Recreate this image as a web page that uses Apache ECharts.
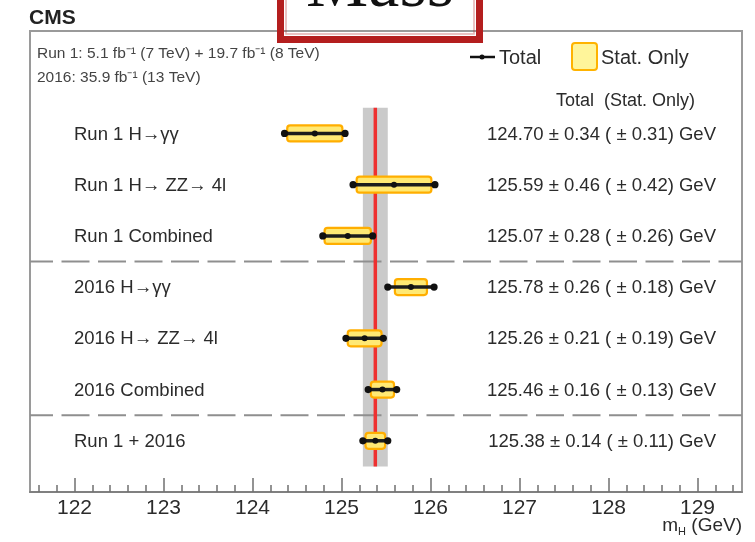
<!DOCTYPE html>
<html><head><meta charset="utf-8">
<script src="https://cdn.jsdelivr.net/npm/echarts@6/dist/echarts.min.js"></script>
<style>html,body{margin:0;padding:0;background:#fff}#c{width:755px;height:542px}</style>
</head><body><div id="c"></div>
<script>
const rowLabels = ['Run 1 H\u2192\u03b3\u03b3','Run 1 H\u2192 ZZ\u2192 4l','Run 1 Combined','2016 H\u2192\u03b3\u03b3','2016 H\u2192 ZZ\u2192 4l','2016 Combined','Run 1 + 2016'];
const central  = [124.70,125.59,125.07,125.78,125.26,125.46,125.38];
const totalErr = [0.34,0.46,0.28,0.26,0.21,0.16,0.14];
const statErr  = [0.31,0.42,0.26,0.18,0.19,0.13,0.11];
const xTickLabels = [122,123,124,125,126,127,128,129];
const separators = [2.5, 5.5];
const combinedIndex = 6;
const X_MIN = 121.5, X_MAX = 129.5;

const minorTicks = [];
for (let v = 121.6; v < X_MAX - 1e-9; v += 0.2) {
  const r = Math.round(v * 10) / 10;
  if (Math.abs(r - Math.round(r)) > 1e-6) minorTicks.push(r);
}
const FONT = '"Liberation Sans", Arial, Helvetica, sans-serif';
const TXT = '#2b2b2b';

const rows = rowLabels.map((l, i) => [i, central[i], statErr[i], totalErr[i]]);
const chart = echarts.init(document.getElementById('c'), null, {renderer: 'canvas'});

const option = {
  animation: false,
  backgroundColor: '#fff',
  grid: {left: 30, right: 13, top: 31, bottom: 50, show: true, borderColor: '#9a9a9a', borderWidth: 2, containLabel: false},
  xAxis: [{
    type: 'value', min: X_MIN, max: X_MAX, position: 'bottom',
    axisLine: {show: true, onZero: false, lineStyle: {color: '#808080', width: 2}},
    axisTick: {show: true, inside: true, length: 14, customValues: xTickLabels, lineStyle: {color: '#707070', width: 1.5}},
    axisLabel: {show: true, customValues: xTickLabels, fontSize: 21, color: TXT, margin: 6, fontFamily: FONT},
    splitLine: {show: false}
  }, {
    type: 'value', min: X_MIN, max: X_MAX, position: 'bottom', gridIndex: 0,
    axisLine: {show: false, onZero: false},
    axisTick: {show: true, inside: true, length: 7, customValues: minorTicks, lineStyle: {color: '#707070', width: 1.5}},
    axisLabel: {show: false},
    splitLine: {show: false}
  }],
  yAxis: {type: 'value', inverse: true, min: -2, max: 7, show: false, axisLine: {onZero: false}},
  series: [
    { // combined band
      type: 'custom', xAxisIndex: 0, silent: true, z: 1,
      data: [[combinedIndex, central[combinedIndex], totalErr[combinedIndex]]],
      encode: {x: 1, y: 0},
      renderItem(params, api) {
        const c = api.value(1), t = api.value(2);
        const a = api.coord([c - t, -0.5]), b = api.coord([c + t, rowLabels.length - 0.5]);
        return {type: 'rect', shape: {x: a[0], y: a[1], width: b[0] - a[0], height: b[1] - a[1]}, style: {fill: '#cacaca'}};
      }
    },
    { // dashed separators
      type: 'custom', silent: true, z: 2,
      data: separators.map(s => [s]),
      encode: {y: 0},
      renderItem(params, api) {
        const s = api.value(0);
        const a = api.coord([X_MIN, s]), b = api.coord([X_MAX, s]);
        return {type: 'line', shape: {x1: a[0], y1: a[1], x2: b[0], y2: b[1]},
          style: {stroke: '#8f8f8f', lineWidth: 2, lineDash: [28, 8.5], lineDashOffset: 5}};
      }
    },
    { // red line on top of dashes
      type: 'custom', silent: true, z: 3,
      data: [[combinedIndex, central[combinedIndex]]],
      encode: {x: 1, y: 0},
      renderItem(params, api) {
        const c = api.value(1);
        const m0 = api.coord([c, -0.5]), m1 = api.coord([c, rowLabels.length - 0.5]);
        return {type: 'line', shape: {x1: m0[0], y1: m0[1], x2: m1[0], y2: m1[1]}, style: {stroke: '#ee3030', lineWidth: 3.5}};
      }
    },
    { // stat boxes + total error bars
      type: 'custom', silent: true, z: 4,
      data: rows, encode: {x: 1, y: 0},
      renderItem(params, api) {
        const k = api.value(0), c = api.value(1), s = api.value(2), t = api.value(3);
        const s0 = api.coord([c - s, k]), s1 = api.coord([c + s, k]);
        const t0 = api.coord([c - t, k]), t1 = api.coord([c + t, k]);
        const m = api.coord([c, k]);
        const h = 16;
        return {type: 'group', children: [
          {type: 'rect', shape: {x: s0[0], y: s0[1] - h / 2, width: s1[0] - s0[0], height: h, r: 3},
            style: {fill: '#ffe974', stroke: '#ffae00', lineWidth: 2.2}},
          {type: 'line', shape: {x1: t0[0], y1: t0[1], x2: t1[0], y2: t1[1]}, style: {stroke: '#1c1c1c', lineWidth: 3.5}},
          {type: 'circle', shape: {cx: t0[0], cy: t0[1], r: 3.6}, style: {fill: '#111'}},
          {type: 'circle', shape: {cx: t1[0], cy: t1[1], r: 3.6}, style: {fill: '#111'}},
          {type: 'circle', shape: {cx: m[0], cy: m[1], r: 3}, style: {fill: '#111'}}
        ]};
      }
    },
    { // row labels and value texts
      type: 'custom', silent: true, z: 5,
      data: rows, encode: {x: 1, y: 0},
      renderItem(params, api) {
        const k = api.value(0), c = api.value(1), s = api.value(2), t = api.value(3);
        const p = api.coord([c, k]);
        const valTxt = c.toFixed(2) + ' \u00b1 ' + t.toFixed(2) + ' ( \u00b1 ' + s.toFixed(2) + ') GeV';
        return {type: 'group', children: [
          {type: 'text', x: 74, y: p[1] + 1, style: {text: rowLabels[k], fontSize: 18.5, fontFamily: FONT, fill: TXT, verticalAlign: 'middle', align: 'left'}},
          {type: 'text', x: 716, y: p[1] + 1, style: {text: valTxt, fontSize: 18.5, fontFamily: FONT, fill: TXT, verticalAlign: 'middle', align: 'right'}}
        ]};
      }
    }
  ],
  graphic: [
    {type: 'text', left: 29, top: 8, style: {text: 'CMS', fontSize: 21, fontWeight: 'bold', fontFamily: FONT, fill: '#222'}},
    {type: 'text', x: 37, y: 54, style: {text: 'Run 1: 5.1 fb\u207b\u00b9 (7 TeV) + 19.7 fb\u207b\u00b9 (8 TeV)', fontSize: 15.5, fontFamily: FONT, fill: '#444', verticalAlign: 'middle'}},
    {type: 'text', x: 37, y: 78, style: {text: '2016: 35.9 fb\u207b\u00b9 (13 TeV)', fontSize: 15.5, fontFamily: FONT, fill: '#444', verticalAlign: 'middle'}},
    // legend
    {type: 'line', shape: {x1: 470, y1: 57, x2: 495, y2: 57}, style: {stroke: '#111', lineWidth: 2.5}},
    {type: 'circle', shape: {cx: 482, cy: 57, r: 2.5}, style: {fill: '#111'}},
    {type: 'text', x: 499, y: 58, style: {text: 'Total', fontSize: 20, fontFamily: FONT, fill: TXT, verticalAlign: 'middle'}},
    {type: 'rect', shape: {x: 572, y: 43, width: 25, height: 27, r: 3}, style: {fill: '#fff59a', stroke: '#ffb300', lineWidth: 2}},
    {type: 'text', x: 601, y: 58, style: {text: 'Stat. Only', fontSize: 20, fontFamily: FONT, fill: TXT, verticalAlign: 'middle'}},
    {type: 'text', x: 695, y: 101, style: {text: 'Total  (Stat. Only)', fontSize: 18, fontFamily: FONT, fill: TXT, verticalAlign: 'middle', align: 'right'}},
    // axis title
    {type: 'text', x: 742, y: 526, style: {
      text: '{m|m}{s|H}{m| (GeV)}', align: 'right', verticalAlign: 'middle',
      rich: {m: {fontSize: 19, fontFamily: FONT, fill: TXT, lineHeight: 22},
             s: {fontSize: 11, fontFamily: FONT, fill: TXT, verticalAlign: 'bottom', lineHeight: 22, padding: [8, 0, 0, 0]}}}},
    // Mass title box
    {type: 'rect', shape: {x: 280.5, y: -10, width: 199, height: 49.5}, style: {fill: 'none', stroke: '#b41e1e', lineWidth: 7}, z: 100},
    {type: 'rect', shape: {x: 286, y: -10, width: 188, height: 44}, style: {fill: 'none', stroke: 'rgba(180,30,30,0.35)', lineWidth: 1.5}, z: 100},
    {type: 'text', x: 380, y: -12, z: 101, style: {text: 'Mass', fontSize: 70, fontFamily: '"Liberation Serif", "DejaVu Serif", serif', fill: '#111', align: 'center', verticalAlign: 'middle'}}
  ]
};
chart.setOption(option);
</script>
</body></html>
